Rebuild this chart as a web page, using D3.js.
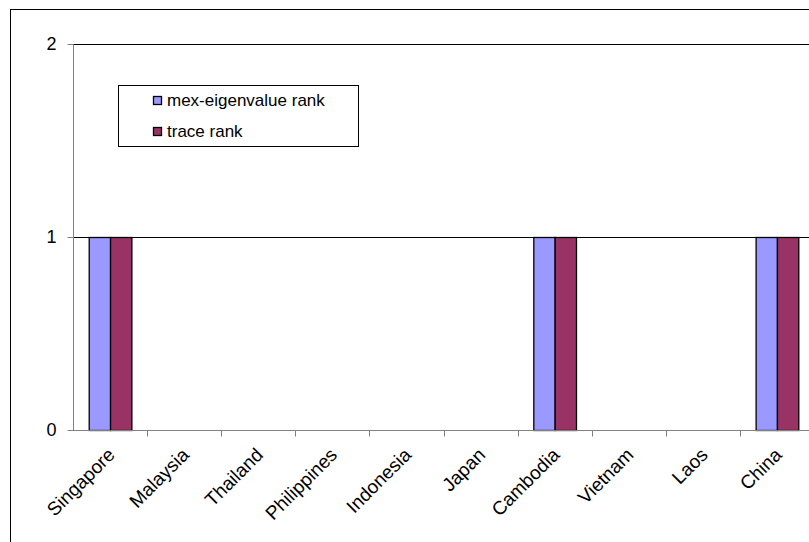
<!DOCTYPE html>
<html>
<head>
<meta charset="utf-8">
<script src="https://cdn.jsdelivr.net/npm/d3@7"></script>
<style>
  html, body { margin: 0; padding: 0; background: #fff; }
  svg { display: block; }
  text { font-family: "Liberation Sans", Arial, sans-serif; fill: #000; }
</style>
</head>
<body>
<svg id="chart" width="809" height="542"></svg>
<script>
const categories = ["Singapore", "Malaysia", "Thailand", "Philippines", "Indonesia", "Japan", "Cambodia", "Vietnam", "Laos", "China"];
const seriesNames = ["mex-eigenvalue rank", "trace rank"];
const mexEigenvalueRank = [1, 0, 0, 0, 0, 0, 1, 0, 0, 1];
const traceRank = [1, 0, 0, 0, 0, 0, 1, 0, 0, 1];
const yTicks = [0, 1, 2];
const colors = ["#9999FF", "#993366"];

const seriesValues = [mexEigenvalueRank, traceRank];
const svg = d3.select("#chart");

// outer chart border (cropped at right/bottom)
svg.append("rect")
  .attr("x", 10.5).attr("y", 9.5)
  .attr("width", 900).attr("height", 600)
  .attr("fill", "none").attr("stroke", "#000").attr("stroke-width", 1);

const plotLeft = 73, plotRight = 814, plotTop = 44, plotBottom = 430;

const x0 = d3.scaleBand().domain(categories).range([plotLeft, plotRight])
  .paddingInner(0.424).paddingOuter(0.212);
const x1 = d3.scaleBand().domain(seriesNames).range([0, x0.bandwidth()]);
const y = d3.scaleLinear().domain([0, 2]).range([plotBottom, plotTop]);

// gridlines
svg.append("g").selectAll("line")
  .data(yTicks.filter(d => d > 0))
  .join("line")
  .attr("x1", plotLeft).attr("x2", 809)
  .attr("y1", d => Math.round(y(d)) + 0.5).attr("y2", d => Math.round(y(d)) + 0.5)
  .attr("stroke", "#000").attr("stroke-width", 1);

// bars
const groups = svg.append("g").selectAll("g")
  .data(categories)
  .join("g")
  .attr("transform", d => `translate(${x0(d)},0)`);

groups.selectAll("rect")
  .data((c, i) => seriesNames.map((s, j) => ({ s, v: seriesValues[j][i], j })).filter(d => d.v > 0))
  .join("rect")
  .attr("x", d => x1(d.s) + 0.5)
  .attr("y", d => Math.round(y(d.v)) + 0.5)
  .attr("width", x1.bandwidth())
  .attr("height", d => y(0) - Math.round(y(d.v)))
  .attr("fill", d => colors[d.j])
  .attr("stroke", "#000").attr("stroke-width", 1.3);

// y axis
const yAxis = d3.axisLeft(y).tickValues(yTicks).tickSize(6).tickPadding(11).tickFormat(d3.format("d"));
const gy = svg.append("g").attr("transform", `translate(${plotLeft + 0.5},0)`).call(yAxis);
gy.select(".domain").attr("stroke", "#808080").attr("d", `M0,${plotTop}.5V${plotBottom + 0.5}`);
gy.selectAll(".tick line").attr("stroke", "#808080");
gy.selectAll(".tick text").attr("font-size", 18).attr("font-family", "Liberation Sans, Arial, sans-serif");

// x axis
const gx = svg.append("g").attr("transform", `translate(0,${plotBottom + 0.5})`);
gx.append("line").attr("x1", plotLeft).attr("x2", 809).attr("y1", 0).attr("y2", 0).attr("stroke", "#808080");
const boundaries = categories.map(c => x0(c) - x0.step() * x0.paddingOuter());
gx.selectAll(".xtick").data(boundaries.slice(1))
  .join("line")
  .attr("class", "xtick")
  .attr("x1", d => Math.round(d) + 0.5).attr("x2", d => Math.round(d) + 0.5)
  .attr("y1", 0).attr("y2", 6).attr("stroke", "#808080");
gx.selectAll(".xlabel").data(categories)
  .join("text")
  .attr("class", "xlabel")
  .attr("text-anchor", "end")
  .attr("font-size", 19)
  .attr("transform", d => `translate(${x0(d) + x0.bandwidth() / 2 + 6},${25.5}) rotate(-45)`)
  .text(d => d);

// legend
const lg = svg.append("g");
lg.append("rect").attr("x", 118.5).attr("y", 85.5).attr("width", 240).attr("height", 61)
  .attr("fill", "#fff").attr("stroke", "#000");
const li = lg.selectAll(".li").data(seriesNames).join("g")
  .attr("class", "li")
  .attr("transform", (d, i) => `translate(153,${96 + i * 31})`);
li.append("rect").attr("x", 0.5).attr("y", 0.5).attr("width", 8).attr("height", 8)
  .attr("fill", (d, i) => colors[i]).attr("stroke", "#000").attr("stroke-width", 1.3);
li.append("text").attr("x", 14).attr("y", 9.5).attr("font-size", 17).text(d => d);
</script>
</body>
</html>
